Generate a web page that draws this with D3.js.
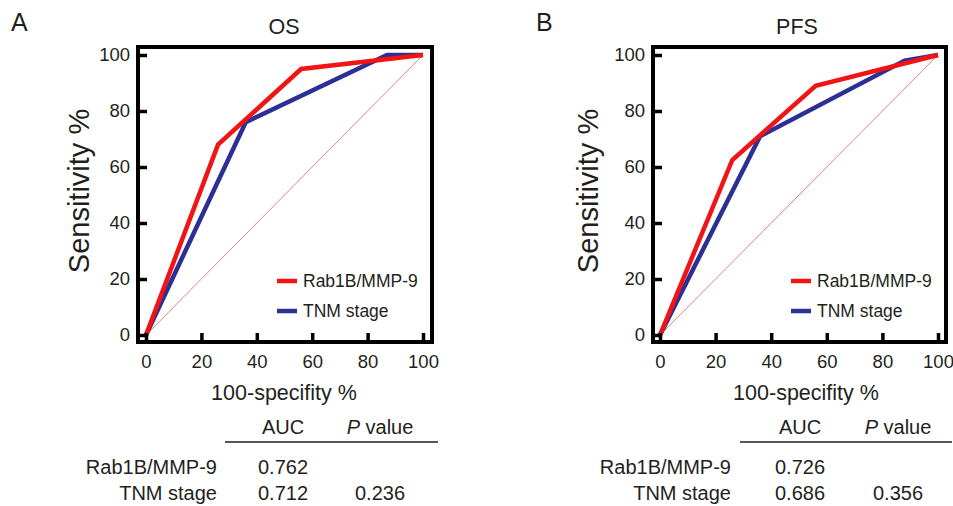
<!DOCTYPE html>
<html>
<head>
<meta charset="utf-8">
<script src="https://cdn.jsdelivr.net/npm/d3@7"></script>
<style>
  body { margin: 0; background: #fff; }
  text { font-family: Arial, "Liberation Sans", sans-serif; fill: #231f20; }
</style>
</head>
<body>
<div id="chart"></div>
<script>
// ROC curves, points are [100-specificity %, sensitivity %]
var osRab = [[0, 0], [26, 68], [56, 95], [100, 100]];
var osTnm = [[0, 0], [36, 76], [87, 100], [100, 100]];
var pfsRab = [[0, 0], [26, 62.5], [56, 89], [100, 100]];
var pfsTnm = [[0, 0], [36, 71], [88, 98], [100, 100]];
var diagonal = [[0, 0], [100, 100]];

var ticks = [0, 20, 40, 60, 80, 100];
var seriesNames = ["Rab1B/MMP-9", "TNM stage"];
var seriesColors = ["#f01414", "#2c2f94"];

// table under each plot
var osAuc = ["0.762", "0.712"];
var osP = ["", "0.236"];
var pfsAuc = ["0.726", "0.686"];
var pfsP = ["", "0.356"];

var svg = d3.select("#chart").append("svg")
  .attr("width", 953)
  .attr("height", 506);

function drawPanel (p) {
  var x = d3.scaleLinear().domain([0, 100]).range(p.xr);
  var y = d3.scaleLinear().domain([0, 100]).range([335, 55]);
  var g = svg.append("g");

  // panel letter and title
  g.append("text").attr("x", p.letterX).attr("y", 31)
    .attr("font-size", "25px").text(p.letter);
  g.append("text").attr("x", p.titleX).attr("y", 34)
    .attr("text-anchor", "middle").attr("font-size", "21.5px").text(p.title);

  // chance line
  var line = d3.line().x(function (d) { return x(d[0]); }).y(function (d) { return y(d[1]); });
  g.append("path").datum(diagonal)
    .attr("d", line).attr("fill", "none")
    .attr("stroke", "#c87a7a").attr("stroke-width", 0.9);

  // roc curves (TNM first so red sits on top)
  [1, 0].forEach(function (i) {
    g.append("path").datum(p.curves[i])
      .attr("d", line).attr("fill", "none")
      .attr("stroke", seriesColors[i]).attr("stroke-width", 4.5)
      .attr("stroke-linejoin", "miter");
  });

  // axes, ticks pointing inward
  var yAxis = g.append("g").attr("transform", "translate(" + p.frame[0] + ",0)")
    .call(d3.axisLeft(y).tickValues(ticks).tickSize(-9).tickPadding(8));
  var xAxis = g.append("g").attr("transform", "translate(0," + p.frame[3] + ")")
    .call(d3.axisBottom(x).tickValues(ticks).tickSize(-9).tickPadding(13));
  [yAxis, xAxis].forEach(function (a) {
    a.select(".domain").remove();
    a.selectAll("line").attr("stroke", "#000").attr("stroke-width", 3.5);
    a.selectAll("text").attr("font-size", "18.5px").attr("fill", "#231f20")
      .attr("font-family", "Arial, 'Liberation Sans', sans-serif");
  });

  // frame
  g.append("rect")
    .attr("x", p.frame[0]).attr("y", p.frame[1])
    .attr("width", p.frame[2] - p.frame[0]).attr("height", p.frame[3] - p.frame[1])
    .attr("fill", "none").attr("stroke", "#000").attr("stroke-width", 4);

  // axis titles
  g.append("text")
    .attr("transform", "translate(" + p.yTitleX + ",191) rotate(-90)")
    .attr("text-anchor", "middle").attr("font-size", "29px").text("Sensitivity %");
  g.append("text").attr("x", p.xTitleX).attr("y", 400)
    .attr("text-anchor", "middle").attr("font-size", "21.5px").text("100-specifity %");

  // legend
  seriesNames.forEach(function (name, i) {
    var ly = 281 + i * 30;
    g.append("line")
      .attr("x1", p.legendX).attr("x2", p.legendX + 20)
      .attr("y1", ly).attr("y2", ly)
      .attr("stroke", seriesColors[i]).attr("stroke-width", 4.5);
    g.append("text").attr("x", p.legendX + 26).attr("y", ly + 6)
      .attr("font-size", "17.5px").text(name);
  });

  // table
  var t = p.table;
  g.append("text").attr("x", t.auc).attr("y", 434)
    .attr("text-anchor", "middle").attr("font-size", "20px").text("AUC");
  var ph = g.append("text").attr("x", t.pv).attr("y", 434)
    .attr("text-anchor", "middle").attr("font-size", "20px");
  ph.append("tspan").attr("font-style", "italic").text("P");
  ph.append("tspan").text(" value");
  g.append("line")
    .attr("x1", t.line[0]).attr("x2", t.line[1])
    .attr("y1", 442).attr("y2", 442)
    .attr("stroke", "#231f20").attr("stroke-width", 1.6);
  seriesNames.forEach(function (name, i) {
    var ty = 474 + i * 26;
    g.append("text").attr("x", t.label).attr("y", ty)
      .attr("text-anchor", "end").attr("font-size", "20px").text(name);
    g.append("text").attr("x", t.auc).attr("y", ty)
      .attr("text-anchor", "middle").attr("font-size", "20px").text(p.auc[i]);
    g.append("text").attr("x", t.pv).attr("y", ty)
      .attr("text-anchor", "middle").attr("font-size", "20px").text(p.pval[i]);
  });
}

drawPanel({
  letter: "A", letterX: 11, title: "OS", titleX: 284,
  xr: [146, 423], frame: [138, 47, 432, 342],
  yTitleX: 89, xTitleX: 284, legendX: 277,
  curves: [osRab, osTnm], auc: osAuc, pval: osP,
  table: { label: 217, auc: 283, pv: 380, line: [225, 438] }
});

drawPanel({
  letter: "B", letterX: 536, title: "PFS", titleX: 797,
  xr: [660, 938], frame: [653, 47, 946, 342],
  yTitleX: 598, xTitleX: 806, legendX: 791,
  curves: [pfsRab, pfsTnm], auc: pfsAuc, pval: pfsP,
  table: { label: 731, auc: 800, pv: 898, line: [740, 952] }
});
</script>
</body>
</html>
